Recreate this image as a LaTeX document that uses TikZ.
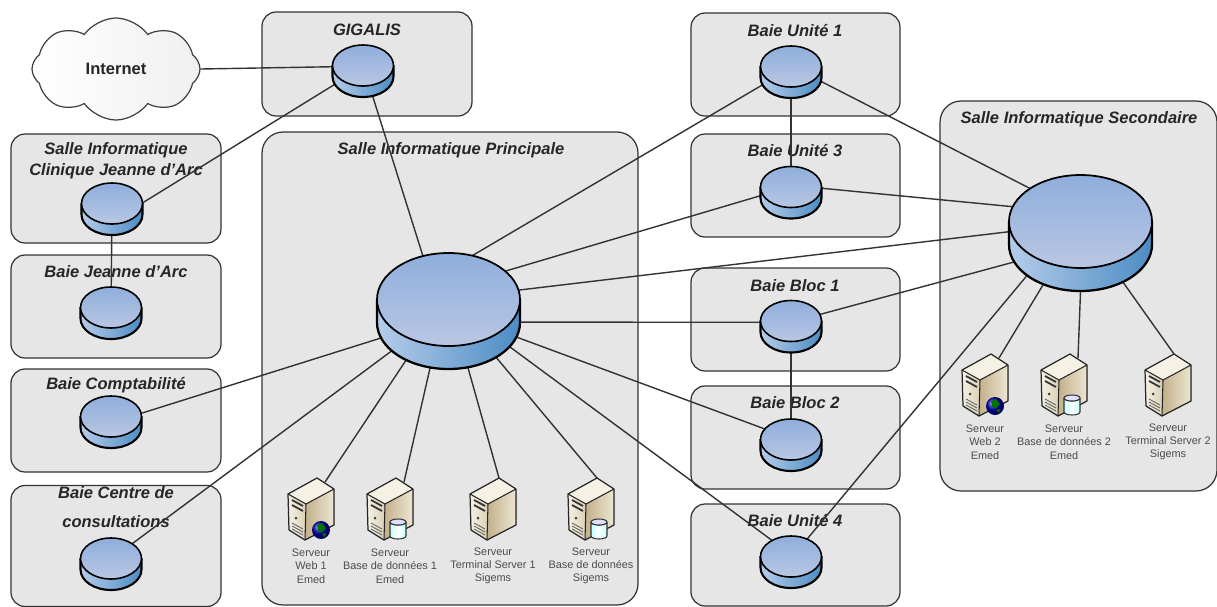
\documentclass[tikz,border=0pt]{standalone}
\usepackage{fontspec}
\setmainfont{Liberation Sans}
\usetikzlibrary{shapes.geometric,shapes.symbols}
\definecolor{roomgray}{HTML}{E6E6E6}
\definecolor{diskhi}{HTML}{8FAEDC}
\definecolor{disklo}{HTML}{B9C7E3}
\definecolor{sideA}{HTML}{B5CCEA}
\definecolor{sideB}{HTML}{4C8CC4}
\definecolor{creamA}{HTML}{F5F1E4}
\definecolor{creamB}{HTML}{D9CFB5}
\definecolor{tanA}{HTML}{C3B08A}
\definecolor{tanB}{HTML}{EDE6D3}
\def\px{0.02cm}
\tikzset{
 room/.style={draw=black!80,fill=roomgray,line width=0.7pt,rounded corners=8pt,inner sep=0pt},
 roomtitle/.style={font=\fontsize{9.4}{11.9}\selectfont\bfseries\itshape,text=black!85,align=center,inner sep=0pt},
 sw/.style={ellipse,inner sep=0pt},
 link/.style={draw=black!80,line width=0.8pt},
 srvlabel/.style={font=\fontsize{6.2}{7.55}\selectfont,text=black!70,align=center,inner sep=0pt},
 pics/server/.style={code={
  \coordinate (-top) at (6,-31);
  \coordinate (-side) at (14,-27);
  \fill[left color=creamA,right color=creamB] (-23,-15)--(-5,-5)--(-6,31)--(-22,21)--cycle;
  \fill[left color=tanA,right color=tanB] (-5,-5)--(23,-20)--(23,16)--(-6,31)--cycle;
  \fill[creamA] (-23,-15)--(6,-31)--(23,-20)--(-5,-5)--cycle;
  \draw[black!85,line width=0.7pt,line join=round] (-23,-15)--(6,-31)--(23,-20)--(23,16)--(-6,31)--(-22,21)--cycle;
  \draw[black!85,line width=0.6pt,line join=round] (-23,-15)--(-5,-5)--(23,-20) (-5,-5)--(-6,31);
  \draw[black!80,line width=1pt] (-19,-9)--(-8,-3) (-19,-4)--(-8,2);
  \fill[black!75] (-15,9) circle (1.5);
  \draw[black!60,line width=0.5pt] (-19,14)--(-8,20) (-19,17)--(-8,23) (-19,20)--(-8,26);
 }},
 pics/globe/.style={code={
  \shade[ball color=blue!70!black] (10,21) circle (9);
  \fill[green!45!black] (6,16)--(11,14)--(15,19)--(11,23)--(7,22)--cycle (11,25)--(15,24)--(14,28)--cycle;
 }},
 pics/dbcan/.style={code={
  \draw[black!80,line width=0.6pt,left color=cyan!25!white,right color=cyan!25!white,middle color=white] (0,13)--(0,27) arc (180:0:8 and 3)--(16,13) arc (0:180:8 and 3)--cycle;
  \draw[black!80,line width=0.6pt,fill=blue!12!white] (8,13) ellipse (8 and 3);
 }},
}
\begin{document}
\begin{tikzpicture}[x=\px,y=-\px,line join=round]
 \useasboundingbox (0,0) rectangle (1217,606);
 % rooms
 \foreach \n/\x/\y/\w/\h in {roomGig/367/64/210/104, roomCli/116/188.5/210/109, roomJda/116/306.5/210/103,
  roomCpt/116/420.5/210/103, roomCtr/116/546/210/121, roomUa/795.5/64.5/209/103, roomUc/795.5/185.5/209/103,
  roomBa/795.5/319.5/209/103, roomBb/795.5/437.5/209/103, roomUd/795.5/555/209/102}
 \node[room,minimum width=\w*\px,minimum height=\h*\px] (\n) at (\x,\y) {};
 \foreach \n/\x/\y/\w/\h in {roomPri/450/368.5/376/473, roomSec/1078.5/296/277/390}
 \node[room,rounded corners=12pt,minimum width=\w*\px,minimum height=\h*\px] (\n) at (\x,\y) {};
 % titles
 \foreach \n/\x/\y/\txt in {titleGig/367/30/{GIGALIS}, titleCli/116/161/{Salle Informatique\\Clinique Jeanne d’Arc},
  titleJda/116/272/{Baie Jeanne d’Arc}, titleCpt/116/385/{Baie Comptabilité}, titlePri/451/150/{Salle Informatique Principale},
  titleUa/795/31/{Baie Unité 1}, titleUc/795/151/{Baie Unité 3}, titleBa/795/286/{Baie Bloc 1}, titleBb/795/403/{Baie Bloc 2},
  titleUd/795/521/{Baie Unité 4}, titleSec/1079/119/{Salle Informatique Secondaire}}
 \node[roomtitle] (\n) at (\x,\y) {\txt};
 \node[roomtitle] (titleCtr) at (116,507) {Baie Centre de\\[5pt]consultations};
 \node[draw=black!75,line width=0.7pt,cloud,cloud puffs=8,cloud puff arc=110,aspect=1.7,inner sep=0pt,minimum width=168*\px,minimum height=102*\px,
  left color=white,right color=black!6,font=\fontsize{9.4}{10}\selectfont\bfseries,text=black!85] (internet) at (116,69) {Internet};
 % switches
 \foreach \n/\x/\y in {swGig/363/71, swCli/112/209, swJda/111/313, swCpt/111/422, swCtr/111/564,
  swUa/791/72, swUc/791/192.5, swBa/791/326.5, swBb/791/445, swUd/791/562}
 \node[sw,minimum width=61*\px,minimum height=52*\px] (\n) at (\x,\y) {};
 \foreach \n/\x/\y in {swPri/448.5/311, swSec/1080.5/233}
 \node[sw,minimum width=143*\px,minimum height=116*\px] (\n) at (\x,\y) {};
 % servers
 \foreach \n/\x/\y/\txt in {srvA/311/509/{Serveur\\Web 1\\Emed}, srvB/390/509/{Serveur\\Base de données 1\\Emed},
  srvC/493/509/{Serveur\\Terminal Server 1\\Sigems}, srvD/591/509/{Serveur\\Base de données\\Sigems},
  srvE/985/385/{Serveur\\Web 2\\Emed}, srvF/1064/385/{Serveur\\Base de données 2\\Emed}, srvG/1168/385/{Serveur\\Terminal Server 2\\Sigems}}
 {
 \pic (\n) at (\x,\y) {server};
 \node[srvlabel] (\n-label) at (\x,\y+57) {\txt};
 }
 \foreach \x/\y in {311/509,985/385}
 \pic at (\x,\y) {globe};
 \foreach \x/\y in {390/509,591/509,1064/385}
 \pic at (\x,\y) {dbcan};
 % links
 \foreach \a/\b in {internet.east/swGig.172, swGig.205/swCli.11, swGig.291/swPri.115, swCli/swJda,
  swPri.202/swCpt.16, swPri.215/swCtr.44, swPri.229/srvA-side, swPri.252/srvB-side, swPri.289/srvC-top, swPri.316/srvD-top,
  swPri.67/swUa.204, swPri.36/swUc.186, swPri.17/swSec.179, swPri.-9/swBa.172, swPri.-21/swBb.148, swPri.-30/swUd.131,
  swUa/swUc, swBa/swBb, swUa.-17/swSec.138, swUc.8/swSec.158, swBa.23/swSec.204, swUd.55/swSec.218,
  swSec.234/srvE-side, swSec.270/srvF-side, swSec.311/srvG-top}
 \draw[link] (\a)--(\b);
 % disks
 \foreach \n in {swGig,swCli,swJda,swCpt,swCtr,swUa,swUc,swBa,swBb,swUd}
 {
 \begin{scope}[shift={(\n)}]
 \shadedraw[left color=sideA,right color=sideB,draw=black,line width=1.2pt] (-30.5,-5.5)--(-30.5,5.5) arc (180:0:30.5 and 20.5)--(30.5,-5.5)--cycle;
 \shadedraw[top color=diskhi,bottom color=disklo,draw=black,line width=0.9pt] (0,-5.5) ellipse (30.5 and 20.5);
 \end{scope}
 }
 \foreach \n in {swPri,swSec}
 {
 \begin{scope}[shift={(\n)}]
 \shadedraw[left color=sideA,right color=sideB,draw=black,line width=1.3pt] (-71.5,-11.5)--(-71.5,11.5) arc (180:0:71.5 and 46.5)--(71.5,-11.5)--cycle;
 \shadedraw[top color=diskhi,bottom color=disklo,draw=black,line width=1pt] (0,-11.5) ellipse (71.5 and 46.5);
 \end{scope}
 }
\end{tikzpicture}
\end{document}
